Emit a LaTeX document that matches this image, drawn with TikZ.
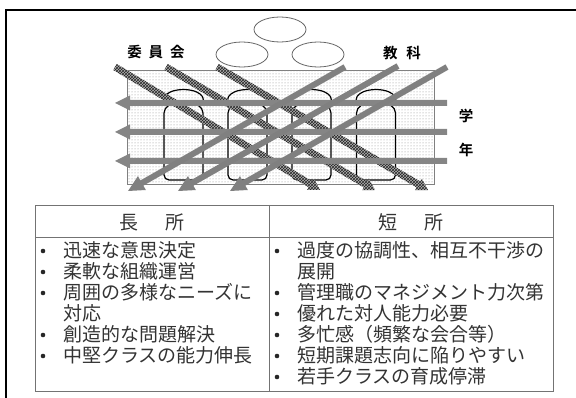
\documentclass[tikz,border=0pt]{standalone}
\usepackage{fontspec}
\newfontfamily\jp{Noto Sans CJK JP}[BoldFont={Noto Sans CJK JP Bold}]
\usetikzlibrary{calc,patterns}
% style, start, end, shaft half width, head length, head half width
\newcommand\fatarr[6]{%
  \coordinate (fa-c) at ($(#3)!#5!(#2)$);
  \fill[#1] ($(#2)!#4!90:(#3)$) -- ($(fa-c)!#4!-90:(#2)$) -- ($(fa-c)!#6!-90:(#2)$)
    -- (#3) -- ($(fa-c)!#6!90:(#2)$) -- ($(fa-c)!#4!90:(#2)$) -- ($(#2)!#4!-90:(#3)$) -- cycle;
}
\newcommand\pillshape[1]{%
  \begin{scope}[shift={(#1,0)}]
    \draw[pilline] (-14,105) .. controls (-24,103) and (-22,90) .. (0,89.5)
      .. controls (22,90) and (24,103) .. (14,105);
    \draw[pilline, rounded corners=5] (-14,105) -- (-19.5,108) -- (-19.5,180) -- (19.5,180)
      -- (19.5,108) -- (14,105);
  \end{scope}
}
\begin{document}
\begin{tikzpicture}[x=1pt,y=-1pt,
  pilline/.style={line width=1.2pt, black},
  ell/.style={draw=black!60, line width=0.8pt},
  toplabel/.style={font=\jp\bfseries\fontsize{14.5}{16}\selectfont, inner sep=0pt},
  head/.style={font=\jp\fontsize{19}{20}\selectfont, text=black!80, inner sep=0pt},
  item/.style={font=\jp\fontsize{19}{20}\selectfont, text=black!80, anchor=west, inner sep=0pt},
  bul/.style={circle, fill=black!85, inner sep=0pt, minimum size=4.6pt},
  tline/.style={draw=black!55, line width=0.8pt},
  solidarr/.style={fill=black!50},
  hatcharr/.style={fill=black!30, postaction={pattern=crosshatch, pattern color=black!85}},
  horarr/.style={fill=black!48}]
\path[use as bounding box] (0,0) rectangle (576,398);
\clip (0,0) rectangle (576,398);
% outer frame
\draw[line width=1.8pt] (6,420) -- (6,10) -- (600,10);
% background
\draw[draw=black!50, line width=0.7pt, fill=white, postaction={pattern=dots, pattern color=black!45}] (127,70) rectangle (434,184);
% ellipses
\draw[ell] (280,29.5) ellipse [x radius=26, y radius=12.5];
\draw[ell] (242,54.5) ellipse [x radius=26, y radius=12.5];
\draw[ell] (318,54.5) ellipse [x radius=26, y radius=12.5];
% labels
\node[toplabel] (iin) at (156,52) {委\hspace{7pt}員\hspace{7pt}会};
\node[toplabel] (kyo) at (402,53) {教\hspace{9pt}科};
\node[toplabel] (gaku) at (466,116) {学};
\node[toplabel] (nen) at (466,150) {年};
% pills
\pillshape{183.5}
\pillshape{247.5}
\pillshape{311.5}
\pillshape{376}
% hatched arrows (upper left to lower right)
\coordinate (d1s) at (115,67); \coordinate (d1e) at (320,190);
\coordinate (d2s) at (166,67); \coordinate (d2e) at (375,190);
\coordinate (d3s) at (217,67); \coordinate (d3e) at (428,190);
\fatarr{hatcharr}{d1s}{d1e}{3.5pt}{11pt}{6.5pt}
\fatarr{hatcharr}{d2s}{d2e}{3.5pt}{11pt}{6.5pt}
\fatarr{hatcharr}{d3s}{d3e}{3.5pt}{11pt}{6.5pt}
% horizontal arrows
\coordinate (h1s) at (447,103); \coordinate (h1e) at (115,103);
\coordinate (h2s) at (447,132); \coordinate (h2e) at (115,132);
\coordinate (h3s) at (447,161); \coordinate (h3e) at (115,161);
\fatarr{horarr}{h1s}{h1e}{3pt}{15pt}{7.5pt}
\fatarr{horarr}{h2s}{h2e}{3pt}{15pt}{7.5pt}
\fatarr{horarr}{h3s}{h3e}{3pt}{15pt}{7.5pt}
% solid diagonal arrows (upper right to lower left)
\coordinate (s1s) at (345,67); \coordinate (s1e) at (128,191);
\coordinate (s2s) at (398,66); \coordinate (s2e) at (178,191);
\coordinate (s3s) at (447,67); \coordinate (s3e) at (230,191);
\fatarr{solidarr}{s1s}{s1e}{3pt}{16pt}{8pt}
\fatarr{solidarr}{s2s}{s2e}{3pt}{16pt}{8pt}
\fatarr{solidarr}{s3s}{s3e}{3pt}{16pt}{8pt}
% table
\draw[tline] (35,205) rectangle (553,391);
\draw[tline] (35,237) -- (553,237);
\draw[tline] (269,205) -- (269,391);
\node[head] (h-l) at (152,222) {長\hspace{27pt}所};
\node[head] (h-r) at (411,222) {短\hspace{27pt}所};
% left items
\foreach \t [count=\i from 0] in {迅速な意思決定,柔軟な組織運営,周囲の多様なニーズに,,創造的な問題解決,中堅クラスの能力伸長}{
  \ifx\t\empty\else\node[bul] at (43,251+21*\i) {};\fi
  \node[item] at (63,250.5+21*\i) {\t};
}
\node[item] (l4) at (63,250.5+21*3) {対応};
% right items
\foreach \t [count=\i from 0] in {過度の協調性、相互不干渉の,,管理職のマネジメント力次第,優れた対人能力必要,多忙感（頻繁な会合等）,短期課題志向に陥りやすい,若手クラスの育成停滞}{
  \ifx\t\empty\else\node[bul] at (277,251+21*\i) {};\fi
  \node[item] at (297,250.5+21*\i) {\t};
}
\node[item] (r2) at (297,250.5+21*1) {展開};
\end{tikzpicture}
\end{document}
